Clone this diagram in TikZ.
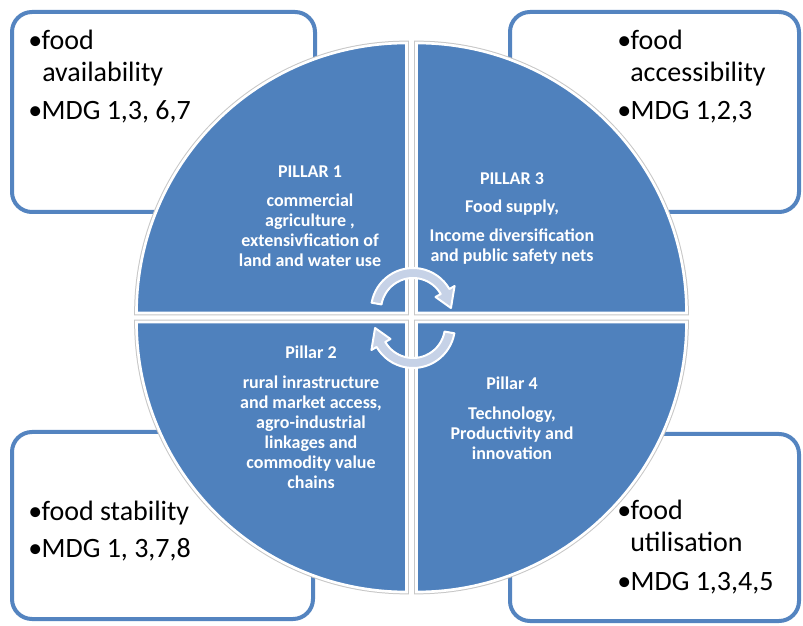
\documentclass[tikz,border=0pt]{standalone}
\usepackage{fontspec}
\setmainfont{Carlito}
\definecolor{pillarblue}{RGB}{79,129,189}
\definecolor{boxline}{RGB}{84,132,192}
\definecolor{turnfill}{RGB}{198,210,231}
\newcommand{\bul}{\makebox[10pt][l]{\textbullet}}
\tikzset{
  goalbox/.style={draw=boxline, line width=3pt, rounded corners=15pt, fill=white},
  goaltext/.style={font=\fontsize{21}{24}\selectfont, anchor=base west, inner sep=0pt},
  quartershadow/.style={draw=black!22, line width=3.5pt},
  quarter/.style={fill=pillarblue, draw=white, line width=2pt},
  pillartext/.style={font=\fontsize{13.5}{15}\selectfont\bfseries, text=white, align=center, anchor=base, inner sep=0pt},
  turnarrow/.style={fill=turnfill, draw=white, line width=1.5pt, line join=round}
}
\begin{document}
\begin{tikzpicture}[x=0.75pt, y=0.75pt]
    \useasboundingbox (0, 0) rectangle (803, 625);
    \fill[white] (0, 0) rectangle (803, 625);
    \draw[goalbox] (12, 413) rectangle (315, 613);
    \draw[goalbox] (510, 413) rectangle (799, 613);
    \draw[goalbox] (12, 6) rectangle (313, 193);
    \draw[goalbox] (510, 4) rectangle (799, 191);
    \node[goaltext] (tlA) at (28, 575) {\bul food};
    \node[goaltext] (tlB) at (42, 543) {availability};
    \node[goaltext] (tlC) at (28, 505) {\bul MDG 1,3, 6,7};
    \node[goaltext] (trA) at (617, 575) {\bul food};
    \node[goaltext] (trB) at (630, 543) {accessibility};
    \node[goaltext] (trC) at (617, 505) {\bul MDG 1,2,3};
    \node[goaltext] (blA) at (28, 105) {\bul food stability};
    \node[goaltext] (blB) at (28, 68) {\bul MDG 1, 3,7,8};
    \node[goaltext] (brA) at (617, 106) {\bul food};
    \node[goaltext] (brB) at (630, 74) {utilisation};
    \node[goaltext] (brC) at (617, 35) {\bul MDG 1,3,4,5};
    \coordinate (ulApex) at (406.5, 312);
    \coordinate (urApex) at (416.5, 312);
    \coordinate (lrApex) at (416.5, 303);
    \coordinate (llApex) at (406.5, 303);
    \foreach \s in {quartershadow, quarter} {
        \path[\s] (ulApex) -- ++(-270, 0) arc[start angle=180, end angle=90, radius=270] -- cycle;
        \path[\s] (urApex) -- ++(0, 270) arc[start angle=90, end angle=0, radius=270] -- cycle;
        \path[\s] (lrApex) -- ++(270, 0) arc[start angle=0, end angle=-90, radius=270] -- cycle;
        \path[\s] (llApex) -- ++(0, -270) arc[start angle=270, end angle=180, radius=270] -- cycle;
    }
    \node[pillartext] (p1head) at (310, 447) {PILLAR 1};
    \node[pillartext] (p1body) at (310, 358) {commercial\\agriculture ,\\extensivfication of\\land and water use};
    \node[pillartext] (p3head) at (512, 440) {PILLAR 3};
    \node[pillartext] (p3sub) at (512, 412) {Food supply,};
    \node[pillartext] (p3body) at (512, 363) {Income diversification\\and public safety nets};
    \node[pillartext] (p2head) at (311, 266) {Pillar 2};
    \node[pillartext] (p2body) at (311, 137) {rural inrastructure\\and market access,\\agro-industrial\\linkages and\\commodity value\\chains};
    \node[pillartext] (p4head) at (512, 235) {Pillar 4};
    \node[pillartext] (p4body) at (512, 166) {Technology,\\Productivity and\\innovation};
    \coordinate (turnUp) at (413, 315);
    \coordinate (turnDown) at (413, 299);
    \begin{scope}[shift={(turnUp)}]
        \path[turnarrow] (170:42) arc[start angle=170, end angle=30, radius=42] -- (30:48) -- (3:38) -- (30:26) -- (30:32) arc[start angle=30, end angle=170, radius=32] -- cycle;
    \end{scope}
    \begin{scope}[shift={(turnDown)}]
        \path[turnarrow] (-10:42) arc[start angle=-10, end angle=-150, radius=42] -- (-150:48) -- (-177:38) -- (-150:26) -- (-150:32) arc[start angle=-150, end angle=-10, radius=32] -- cycle;
    \end{scope}
\end{tikzpicture}
\end{document}
